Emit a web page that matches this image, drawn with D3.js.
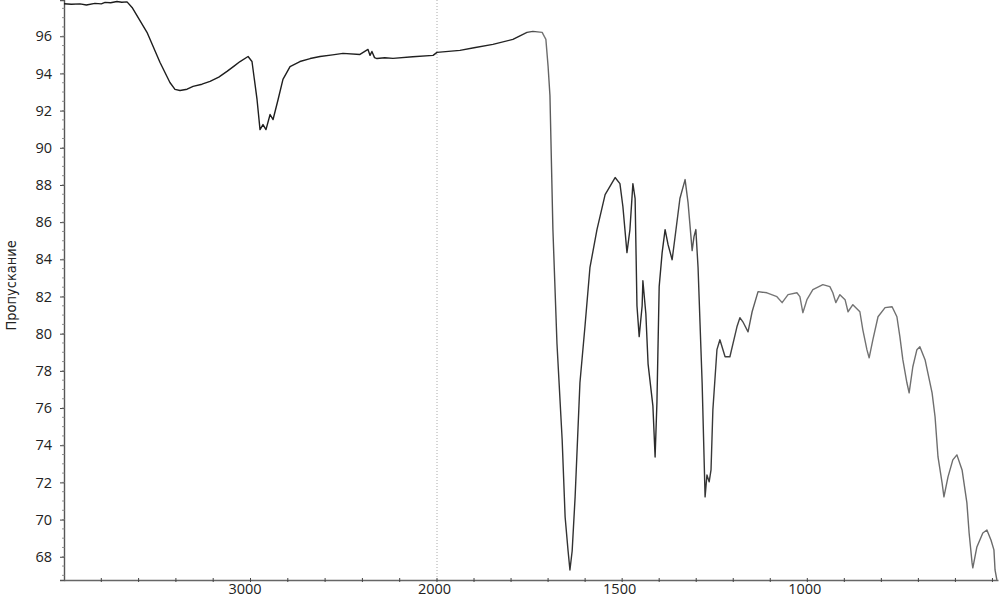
<!DOCTYPE html>
<html><head><meta charset="utf-8">
<script src="https://cdn.jsdelivr.net/npm/d3@7"></script>
<style>
html,body{margin:0;padding:0;background:#fff;}
svg{display:block;}
.tick text{font-family:"Open Sans","DejaVu Sans",sans-serif;font-size:14.5px;fill:#222;}
</style></head>
<body><svg id="c" width="999" height="600"></svg>
<script>
// Wavenumbers (cm-1) and transmittance (%)
const wavenumbers = [4000,3960,3914,3880,3834,3800,3780,3750,3716,3690,3662,3635,3555,3485,3432,3405,3378,3340,3308,3260,3217,3170,3126,3090,3056,3013,2992,2965,2949,2933,2917,2895,2879,2852,2826,2788,2735,2680,2627,2560,2504,2413,2370,2359,2349,2335,2322,2280,2236,2130,2021,2000,1938,1900,1849,1795,1757,1741,1716,1706,1700,1695,1687,1676,1662,1654,1646,1641,1635,1627,1614,1600,1587,1568,1546,1519,1506,1498,1487,1479,1471,1465,1460,1454,1446,1444,1436,1430,1417,1411,1406,1400,1392,1384,1376,1365,1357,1344,1330,1322,1311,1306,1301,1295,1284,1276,1271,1265,1260,1255,1244,1236,1222,1209,1190,1182,1174,1160,1149,1133,1109,1082,1068,1052,1028,1020,1012,1001,985,958,939,931,923,912,898,890,877,858,850,839,833,823,809,790,771,758,750,742,731,725,715,704,696,682,663,655,647,636,631,620,607,596,582,569,563,555,553,542,526,515,504,496,493,488];
const transmittance = [97.75,97.72,97.74,97.68,97.77,97.74,97.82,97.80,97.87,97.83,97.85,97.55,96.21,94.59,93.51,93.14,93.08,93.15,93.30,93.42,93.57,93.80,94.11,94.38,94.64,94.91,94.64,92.60,90.98,91.25,90.98,91.79,91.52,92.60,93.68,94.37,94.64,94.80,94.91,95.00,95.08,95.02,95.29,94.97,95.18,94.85,94.80,94.84,94.81,94.90,94.97,95.13,95.24,95.38,95.56,95.83,96.21,96.26,96.21,95.83,94.37,92.81,85.60,79.46,74.29,70.14,68.31,67.29,68.31,71.22,77.36,80.48,83.55,85.60,87.48,88.40,88.07,86.84,84.36,85.60,88.07,87.27,81.50,79.84,81.50,82.85,81.07,78.38,76.12,73.37,76.34,82.53,84.36,85.60,84.79,83.98,85.22,87.27,88.29,87.05,84.47,85.22,85.60,83.55,77.36,71.22,72.40,72.03,72.67,75.90,79.14,79.67,78.76,78.76,80.37,80.86,80.64,80.10,81.18,82.26,82.20,81.99,81.67,82.10,82.20,81.99,81.13,81.83,82.37,82.64,82.53,82.20,81.67,82.10,81.83,81.18,81.56,81.18,80.21,79.14,78.70,79.67,80.91,81.40,81.45,80.91,79.84,78.60,77.36,76.82,78.22,79.14,79.30,78.60,76.82,75.53,73.37,71.97,71.22,72.30,73.21,73.48,72.67,70.90,69.28,67.67,67.40,68.53,69.28,69.44,68.90,68.37,67.29,66.75];
const xTickLabels = [3000,2000,1500,1000];
const yTickLabels = [68,70,72,74,76,78,80,82,84,86,88,90,92,94,96];
const xMinorTicks = [3800,3600,3400,3200,3000,2800,2600,2400,2200,2000,1900,1800,1700,1600,1500,1400,1300,1200,1100,1000,900,800,700,600,500];
const yTitle = "Пропускание";

const svg = d3.select("#c");
const x = d3.scaleLinear().domain([4000,2000,485]).range([64,437,998]);
const y = d3.scaleLinear().domain([66.75,97.95]).range([580,0]);

// break line at 2000
svg.append("line").attr("x1",x(2000)).attr("x2",x(2000)).attr("y1",0).attr("y2",y(66.75))
  .attr("stroke","#aaa").attr("stroke-width",1).attr("stroke-dasharray","1,2");

// y axis
const yAxis = svg.append("g").attr("transform",`translate(${x(4000)},0)`)
  .call(d3.axisLeft(y).tickValues(yTickLabels).tickSize(4).tickPadding(8).tickFormat(d3.format("d")));
yAxis.select(".domain").attr("stroke","#555").attr("stroke-width",1.4);
yAxis.selectAll(".tick line").attr("stroke","#444");
svg.append("g").selectAll("line").data(d3.range(67,97.6,0.5))
  .join("line").attr("x1",x(4000)-2).attr("x2",x(4000)+1).attr("y1",d=>y(d)).attr("y2",d=>y(d))
  .attr("stroke","#777").attr("stroke-width",0.8);

// x axis
const xAxis = svg.append("g").attr("transform",`translate(0,${y(66.75)})`)
  .call(d3.axisBottom(x).tickValues(xTickLabels).tickSize(0).tickPadding(4).tickFormat(d3.format("d")));
xAxis.select(".domain").attr("stroke","#666").attr("stroke-width",1.6);
xAxis.selectAll(".tick text").attr("dx", d => d===3000 ? -6 : (d===2000 ? -3 : -3));
svg.append("g").selectAll("line").data(xMinorTicks)
  .join("line").attr("x1",d=>x(d)).attr("x2",d=>x(d)).attr("y1",y(66.75)-2).attr("y2",y(66.75)+2)
  .attr("stroke","#444").attr("stroke-width",1);

// y title
svg.append("text").attr("transform",`translate(16,${y(82.6)}) rotate(-90)`)
  .attr("text-anchor","middle").attr("font-family","'Liberation Sans Narrow','DejaVu Sans Condensed',sans-serif")
  .attr("font-size",14.5).attr("fill","#222").text(yTitle);

// gradient to mimic faded print
const defs = svg.append("defs");
const grad = defs.append("linearGradient").attr("id","fade").attr("gradientUnits","userSpaceOnUse")
  .attr("x1",0).attr("x2",999).attr("y1",0).attr("y2",0);
[[0,"#1a1a1a"],[0.52,"#222"],[0.545,"#777"],[0.56,"#333"],[0.67,"#2a2a2a"],[0.69,"#666"],[0.70,"#333"],[0.74,"#444"],[0.77,"#777"],[1,"#6a6a6a"]]
  .forEach(s=>grad.append("stop").attr("offset",s[0]).attr("stop-color",s[1]));

const data = wavenumbers.map((w,i)=>({w, t:transmittance[i]}));
svg.append("path").datum(data)
  .attr("fill","none").attr("stroke","url(#fade)").attr("stroke-width",1.4).attr("stroke-linejoin","round")
  .attr("d", d3.line().x(d=>x(d.w)).y(d=>y(d.t)));
</script></body></html>
